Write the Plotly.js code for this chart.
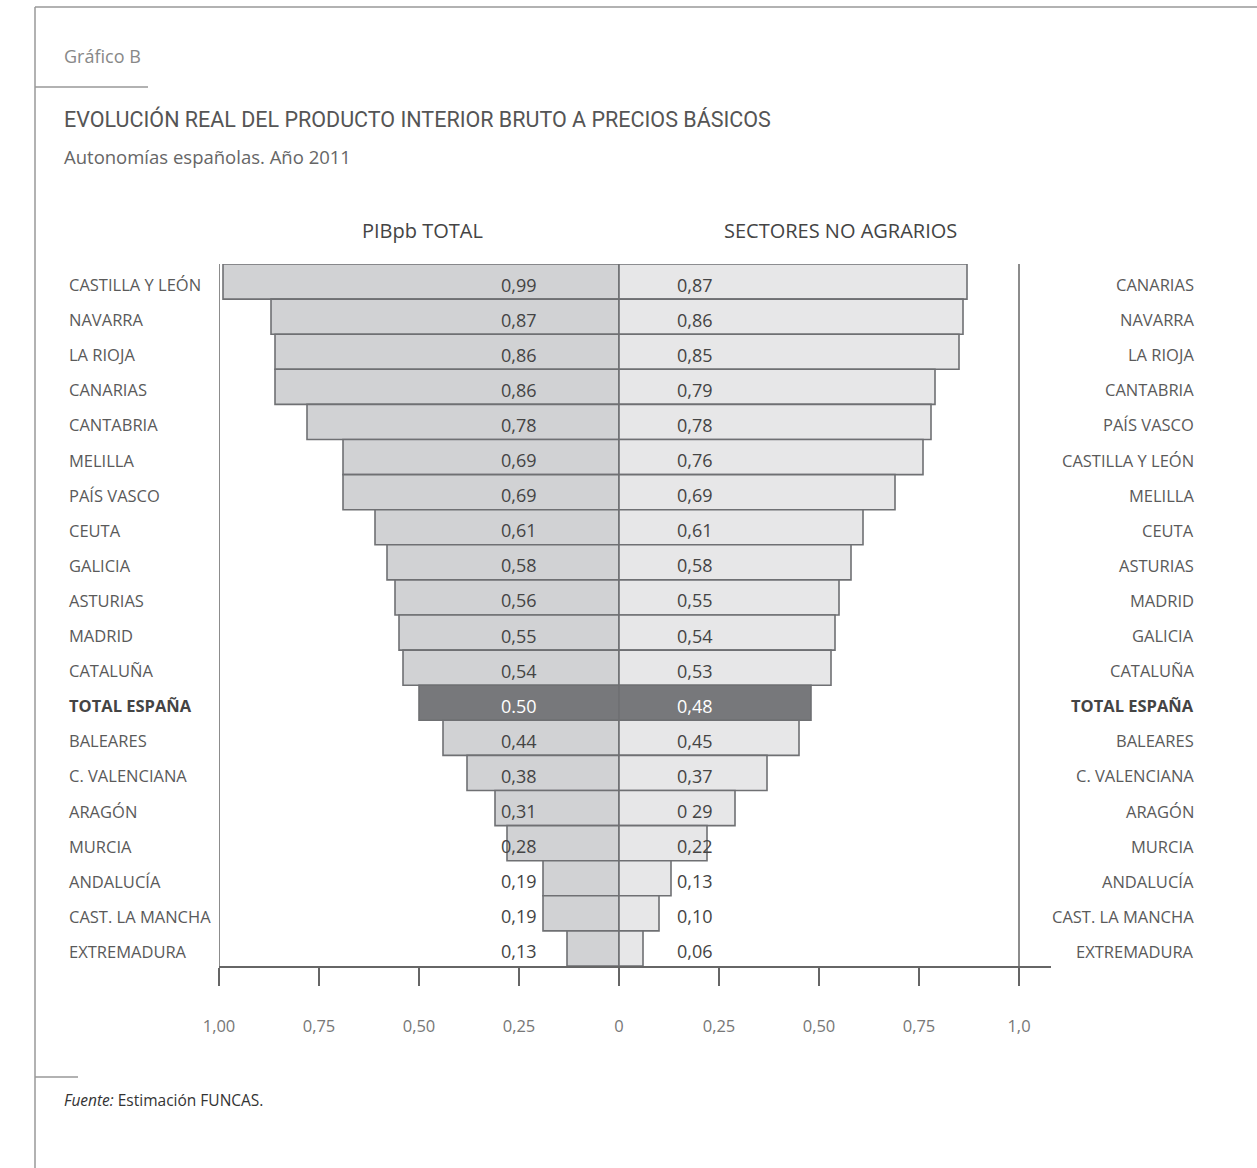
<!DOCTYPE html>
<html>
<head>
<meta charset="utf-8">
<script src="https://cdn.plot.ly/plotly-3.0.1.min.js"></script>
<style>html,body{margin:0;padding:0;background:#fff;}#chart{width:1257px;height:1168px;}</style>
</head>
<body>
<div id="chart"></div>
<script>
// ---- data ----
const leftCategories = ["CASTILLA Y LEÓN","NAVARRA","LA RIOJA","CANARIAS","CANTABRIA","MELILLA","PAÍS VASCO","CEUTA","GALICIA","ASTURIAS","MADRID","CATALUÑA","TOTAL ESPAÑA","BALEARES","C. VALENCIANA","ARAGÓN","MURCIA","ANDALUCÍA","CAST. LA MANCHA","EXTREMADURA"];
const leftValues = [0.99,0.87,0.86,0.86,0.78,0.69,0.69,0.61,0.58,0.56,0.55,0.54,0.50,0.44,0.38,0.31,0.28,0.19,0.19,0.13];
const leftLabels = ["0,99","0,87","0,86","0,86","0,78","0,69","0,69","0,61","0,58","0,56","0,55","0,54","0.50","0,44","0,38","0,31","0,28","0,19","0,19","0,13"];
const rightCategories = ["CANARIAS","NAVARRA","LA RIOJA","CANTABRIA","PAÍS VASCO","CASTILLA Y LEÓN","MELILLA","CEUTA","ASTURIAS","MADRID","GALICIA","CATALUÑA","TOTAL ESPAÑA","BALEARES","C. VALENCIANA","ARAGÓN","MURCIA","ANDALUCÍA","CAST. LA MANCHA","EXTREMADURA"];
const rightValues = [0.87,0.86,0.85,0.79,0.78,0.76,0.69,0.61,0.58,0.55,0.54,0.53,0.48,0.45,0.37,0.29,0.22,0.13,0.10,0.06];
const rightLabels = ["0,87","0,86","0,85","0,79","0,78","0,76","0,69","0,61","0,58","0,55","0,54","0,53","0,48","0,45","0,37","0 29","0,22","0,13","0,10","0,06"];
const tickValues = [-1,-0.75,-0.5,-0.25,0,0.25,0.5,0.75,1];
const tickLabels = ["1,00","0,75","0,50","0,25","0","0,25","0,50","0,75","1,0"];
const totalName = "TOTAL ESPAÑA";

// ---- layout helpers (pixel -> paper) ----
const L = 219, R = 1051, T = 264, B = 966;
const px = v => (v - L) / (R - L);
const py = v => (B - v) / (B - T);

const rows = leftValues.map((_, i) => i);
const leftColor = "#d1d2d4", rightColor = "#e7e7e8", totalColor = "#77787b", edge = "#6f7073";

const traces = [
  {
    type: "bar", orientation: "h", y: rows, x: leftValues.map(v => -v), width: 1,
    marker: { color: leftCategories.map(c => c === totalName ? totalColor : leftColor), line: { color: edge, width: 1.6 } },
    hoverinfo: "skip", showlegend: false
  },
  {
    type: "bar", orientation: "h", y: rows, x: rightValues, width: 1,
    marker: { color: rightCategories.map(c => c === totalName ? totalColor : rightColor), line: { color: edge, width: 1.6 } },
    hoverinfo: "skip", showlegend: false
  }
];

const font = "'Open Sans', 'Noto Sans', sans-serif";
const annotations = [];

leftLabels.forEach((t, i) => {
  annotations.push({ xref: "x", yref: "y", x: -0.2, y: rows[i], text: t, showarrow: false,
    xanchor: "right", yanchor: "middle", yshift: -3,
    font: { family: font, size: 18, color: leftCategories[i] === totalName ? "#ffffff" : "#444" } });
});
rightLabels.forEach((t, i) => {
  annotations.push({ xref: "x", yref: "y", x: 0.14, y: rows[i], text: t, showarrow: false,
    xanchor: "left", yanchor: "middle", yshift: -3,
    font: { family: font, size: 18, color: rightCategories[i] === totalName ? "#ffffff" : "#444" } });
});
leftCategories.forEach((c, i) => {
  const isT = c === totalName;
  annotations.push({ xref: "paper", yref: "y", x: px(67), y: rows[i], text: isT ? "<b>" + c + "</b>" : c, showarrow: false,
    xanchor: "left", yanchor: "middle", yshift: -3,
    font: { family: font, size: 16.5, color: isT ? "#444" : "#5a5a5a" } });
});
rightCategories.forEach((c, i) => {
  const isT = c === totalName;
  annotations.push({ xref: "paper", yref: "y", x: px(1196), y: rows[i], text: isT ? "<b>" + c + "</b>" : c, showarrow: false,
    xanchor: "right", yanchor: "middle", yshift: -3,
    font: { family: font, size: 16.5, color: isT ? "#444" : "#5a5a5a" } });
});

// header / footer texts
annotations.push(
  { xref: "paper", yref: "paper", x: px(62), y: py(56), text: "Gráfico B", showarrow: false, xanchor: "left", yanchor: "middle",
    font: { family: font, size: 18, color: "#888" } },
  { xref: "paper", yref: "paper", x: px(62), y: py(119), text: "EVOLUCIÓN REAL DEL PRODUCTO INTERIOR BRUTO A PRECIOS BÁSICOS", showarrow: false, xanchor: "left", yanchor: "middle",
    font: { family: "'Liberation Sans Narrow', 'Roboto', sans-serif", size: 21.5, color: "#555" } },
  { xref: "paper", yref: "paper", x: px(62), y: py(156), text: "Autonomías españolas. Año 2011", showarrow: false, xanchor: "left", yanchor: "middle",
    font: { family: font, size: 18.5, color: "#666" } },
  { xref: "paper", yref: "paper", x: px(422), y: py(231), text: "PIBpb TOTAL", showarrow: false, xanchor: "center", yanchor: "middle",
    font: { family: font, size: 20, color: "#444" } },
  { xref: "paper", yref: "paper", x: px(840), y: py(231), text: "SECTORES NO AGRARIOS", showarrow: false, xanchor: "center", yanchor: "middle",
    font: { family: font, size: 20, color: "#444" } },
  { xref: "paper", yref: "paper", x: px(62), y: py(1100), text: "<i>Fuente:</i> Estimación FUNCAS.", showarrow: false, xanchor: "left", yanchor: "middle",
    font: { family: font, size: 15.5, color: "#333" } }
);

const lineC = "#999";
const shapes = [
  // frame
  { type: "line", xref: "paper", yref: "paper", x0: px(35), x1: px(1257), y0: py(7), y1: py(7), line: { color: lineC, width: 1.5 } },
  { type: "line", xref: "paper", yref: "paper", x0: px(35), x1: px(35), y0: py(7), y1: py(1168), line: { color: lineC, width: 1.5 } },
  { type: "line", xref: "paper", yref: "paper", x0: px(35), x1: px(148), y0: py(87), y1: py(87), line: { color: lineC, width: 1.5 } },
  { type: "line", xref: "paper", yref: "paper", x0: px(35), x1: px(78), y0: py(1077), y1: py(1077), line: { color: lineC, width: 1.5 } },
  // vertical bounding lines of the chart
  { type: "line", xref: "x", yref: "paper", x0: -1, x1: -1, y0: py(985), y1: 1, line: { color: "#666", width: 1.5 } },
  { type: "line", xref: "x", yref: "paper", x0: 1, x1: 1, y0: py(982), y1: 1, line: { color: "#666", width: 1.5 } }
];

const layout = {
  width: 1257, height: 1168,
  margin: { l: L, r: 1257 - R, t: T, b: 1168 - B, pad: 0 },
  paper_bgcolor: "#fff", plot_bgcolor: "rgba(0,0,0,0)",
  barmode: "overlay", bargap: 0,
  showlegend: false,
  xaxis: {
    range: [-1, 1.08], showgrid: false, zeroline: false,
    showline: true, linecolor: "#666", linewidth: 1.5,
    tickmode: "array", tickvals: tickValues, ticktext: tickLabels,
    ticks: "outside", ticklen: 18, tickwidth: 1.2, tickcolor: "#666",
    ticklabelstandoff: 27,
    tickfont: { family: font, size: 16.5, color: "#777" }, fixedrange: true
  },
  yaxis: {
    range: [rows.length - 0.5, -0.5], showgrid: false, zeroline: false, showline: false,
    showticklabels: false, ticks: "", fixedrange: true
  },
  annotations: annotations,
  shapes: shapes
};

Plotly.newPlot("chart", traces, layout, { displayModeBar: false, staticPlot: true });
</script>
</body>
</html>
